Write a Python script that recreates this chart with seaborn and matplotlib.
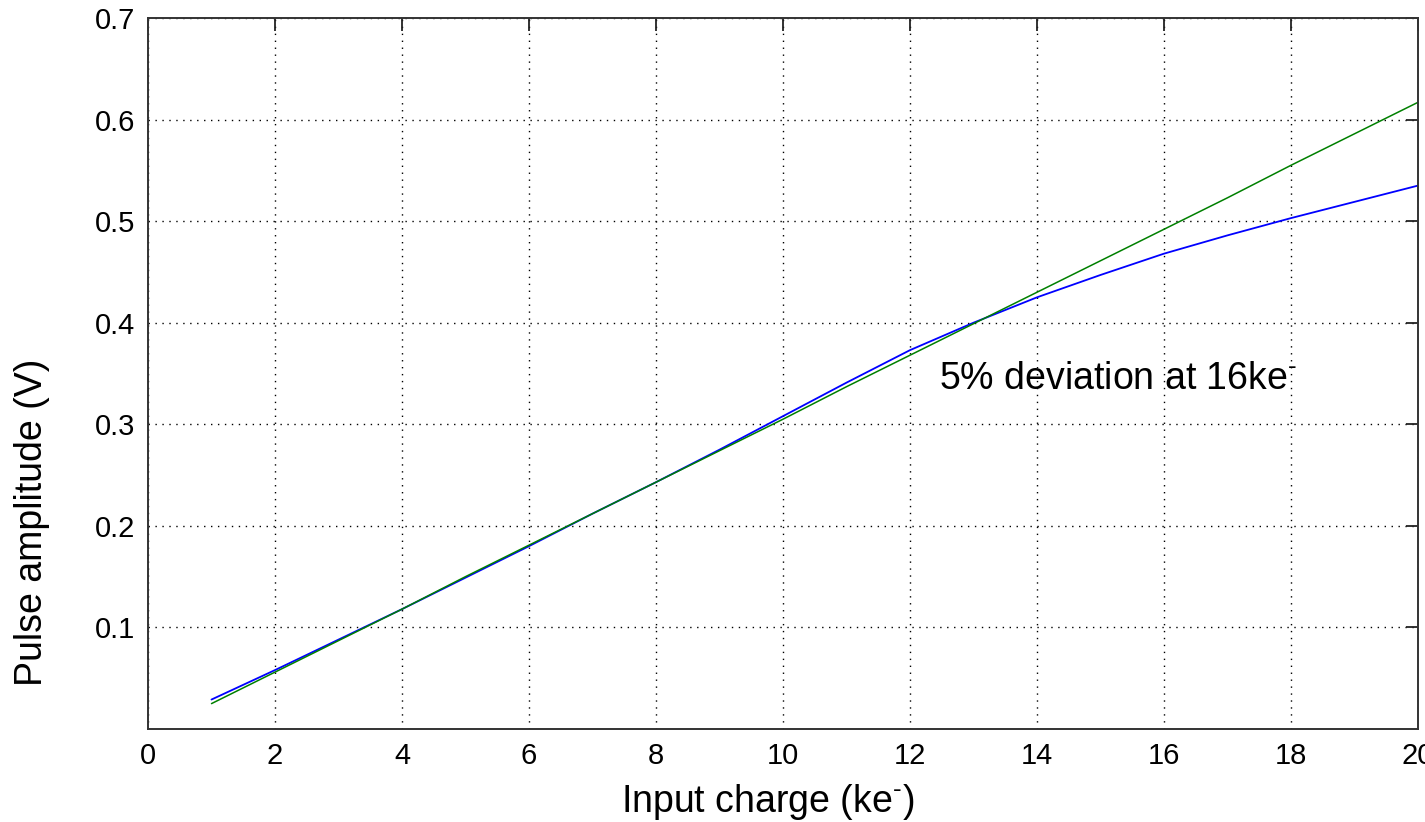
import numpy as np
import pandas as pd
import matplotlib
matplotlib.use('Agg')
import matplotlib.pyplot as plt
import seaborn as sns

# input charge (ke-) and pulse amplitude (V)
charge = [1, 2, 3, 4, 5, 6, 7, 8, 9, 10, 11, 12, 13, 14, 15, 16, 17, 18, 19, 20]
measured = [0.029, 0.058, 0.088, 0.118, 0.149, 0.180, 0.212, 0.243, 0.275, 0.308,
            0.341, 0.373, 0.400, 0.425, 0.447, 0.468, 0.486, 0.503, 0.519, 0.535]
linear_fit = [0.025, 0.056, 0.087, 0.118, 0.150, 0.181, 0.212, 0.243, 0.274, 0.305,
              0.337, 0.368, 0.399, 0.430, 0.461, 0.492, 0.523, 0.555, 0.586, 0.617]
yticks = [0.1, 0.2, 0.3, 0.4, 0.5, 0.6, 0.7]

df = pd.DataFrame({'charge': charge, 'measured': measured, 'fit': linear_fit})

sns.set_style('white')
plt.rcParams['font.family'] = ['Liberation Sans', 'DejaVu Sans']
plt.rcParams['mathtext.fontset'] = 'custom'
plt.rcParams['mathtext.rm'] = 'Liberation Sans'
plt.rcParams['mathtext.it'] = 'Liberation Sans:italic'
for k in ['text.color', 'axes.labelcolor', 'xtick.color', 'ytick.color']:
    plt.rcParams[k] = 'black'

fig = plt.figure(figsize=(14.25, 8.22), dpi=100)
ax = fig.add_axes([148 / 1425, 1 - 729 / 822, 1270 / 1425, 711 / 822])

sns.lineplot(data=df, x='charge', y='measured', color='#0000ff', linewidth=1.3, ax=ax)
sns.lineplot(data=df, x='charge', y='fit', color='#008000', linewidth=1.1, ax=ax)

ax.set_xlim(0, 20)
ax.set_ylim(0, 0.7)
ax.set_xticks(np.arange(0, 21, 2))
ax.set_yticks(yticks)
ax.set_yticklabels([f'{v:.1f}' for v in yticks])
ax.grid(True, linestyle=(0, (1, 4)), color='black', linewidth=1.0)
ax.tick_params(direction='in', top=True, right=True, length=9, width=1.3,
               labelsize=21, pad=9, color='#222222')
for s in ax.spines.values():
    s.set_color('#333333')
    s.set_linewidth(1.4)

ax.set_xlabel(r'Input charge (ke$^{\text{-}}$)', fontsize=27)
ax.xaxis.set_label_coords(0.488, -0.074)
ax.set_ylabel('Pulse amplitude (V)', fontsize=27)
ax.yaxis.set_label_coords(-0.077, 0.291)

ax.text(12.45, 0.335, r'5% deviation at 16ke$^{\text{-}}$', fontsize=27)

fig.savefig('out.png', dpi=100)
